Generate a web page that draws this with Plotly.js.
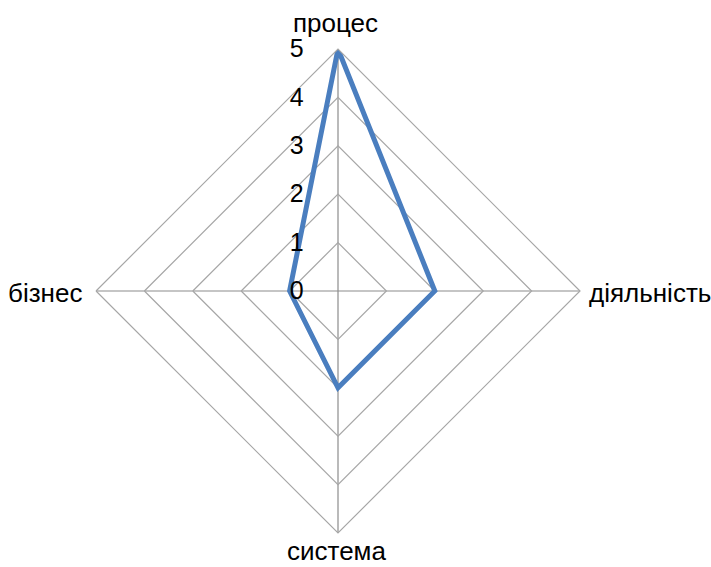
<!DOCTYPE html>
<html>
<head>
<meta charset="utf-8">
<script src="https://cdn.plot.ly/plotly-3.0.1.min.js"></script>
<style>
  html, body { margin: 0; padding: 0; background: #fff; }
  #chart { width: 711px; height: 567px; }
</style>
</head>
<body>
<div id="chart"></div>
<script>
// Axis categories, clockwise from the top
const categories = ['процес', 'діяльність', 'система', 'бізнес'];
// Score on each axis
const scores = [5, 2, 2, 1];
// Radial scale ticks
const radialTicks = [0, 1, 2, 3, 4, 5];

const W = 711, H = 567;
const M = { l: 96, r: 131, t: 49, b: 34 };
const plotW = W - M.l - M.r, plotH = H - M.t - M.b;
// pixel -> paper coordinates (paper spans the area inside the margins)
const px = x => (x - M.l) / plotW;
const py = y => (H - M.b - y) / plotH;

const closedCats = categories.concat([categories[0]]);
const closedVals = scores.concat([scores[0]]);

const trace = {
  type: 'scatterpolar',
  r: closedVals,
  theta: closedCats,
  mode: 'lines',
  line: { color: '#4A7EBF', width: 5, shape: 'linear' },
  hoverinfo: 'skip'
};

// Category labels placed around the outer polygon
const labelSpots = [
  { x: 335, y: 23, xanchor: 'center' },
  { x: 588, y: 293, xanchor: 'left' },
  { x: 336, y: 551, xanchor: 'center' },
  { x: 83, y: 293, xanchor: 'right' }
];
const annotations = categories.map((c, i) => ({
  text: c,
  xref: 'paper', yref: 'paper',
  x: px(labelSpots[i].x), y: py(labelSpots[i].y),
  xanchor: labelSpots[i].xanchor, yanchor: 'middle',
  showarrow: false,
  borderpad: 0,
  font: { size: 26, color: '#000' }
}));

const layout = {
  width: W,
  height: H,
  margin: { l: M.l, r: M.r, t: M.t, b: M.b, pad: 0 },
  paper_bgcolor: '#ffffff',
  plot_bgcolor: '#ffffff',
  showlegend: false,
  font: { family: 'Liberation Sans, Arial, sans-serif', size: 25, color: '#000' },
  annotations: annotations,
  polar: {
    bgcolor: '#ffffff',
    gridshape: 'linear',
    domain: { x: [0, 1], y: [0, 1] },
    radialaxis: {
      range: [0, 5],
      angle: 90,
      side: 'counterclockwise',
      tickvals: radialTicks,
      ticktext: radialTicks.map(String),
      showline: false,
      showgrid: true,
      gridcolor: '#A6A6A6',
      gridwidth: 1.2,
      ticks: 'outside',
      ticklen: 25,
      tickcolor: 'rgba(0,0,0,0)',
      tickfont: { size: 25, color: '#000' },
      tickangle: 90
    },
    angularaxis: {
      type: 'category',
      categoryarray: categories,
      rotation: 90,
      direction: 'clockwise',
      showline: true,
      linecolor: '#A6A6A6',
      linewidth: 1.2,
      gridcolor: '#8C8C8C',
      gridwidth: 1.2,
      ticks: '',
      showticklabels: false
    }
  }
};

Plotly.newPlot('chart', [trace], layout, { displayModeBar: false, staticPlot: true });
</script>
</body>
</html>
